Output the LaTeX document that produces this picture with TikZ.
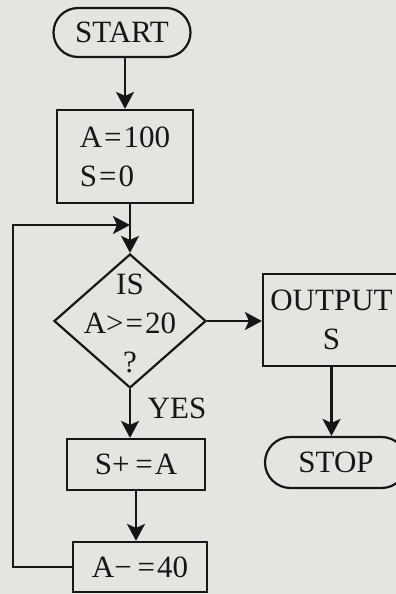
\documentclass[tikz,border=0pt]{standalone}
\usepackage{fontspec}
\setmainfont{Liberation Serif}
\usetikzlibrary{arrows.meta,shapes.geometric,shapes.misc,calc}
\definecolor{paper}{RGB}{228,228,224}
\definecolor{ink}{RGB}{22,22,22}
\newcommand{\eqk}{\kern2pt=\kern2pt}
\begin{document}
\begin{tikzpicture}[x=1pt,y=-1pt,
  every node/.style={font=\fontsize{31}{39}\selectfont, text=ink},
  proc/.style={draw=ink, line width=2.2pt, inner sep=0pt, align=center},
  term/.style={draw=ink, line width=2.2pt, rounded rectangle, inner sep=0pt},
  decision/.style={draw=ink, line width=2.2pt, diamond, inner sep=0pt},
  arr/.style={draw=ink, line width=2.2pt, line join=miter, -{Stealth[length=17pt,width=18pt,inset=4pt]}}]
\useasboundingbox (0,0) rectangle (396,594);
\fill[paper] (0,0) rectangle (396,594);
\clip (0,0) rectangle (396,594);
% nodes
\node[term, minimum width=137pt, minimum height=49pt] (start) at (122,32.5) {START};
\node[proc, minimum width=136pt, minimum height=93pt, align=left] (init) at (125,156.5) {A\eqk100\\S\eqk0};
\node[decision, minimum width=152pt, minimum height=134pt] (dec) at (130,321) {};
\node[align=center] (dectext) at (130,323) {IS\\A>\eqk20\\?};
\node[proc, minimum width=137pt, minimum height=92pt] (out) at (331.5,320) {OUTPUT\\S};
\node[term, minimum width=142pt, minimum height=51pt] (stop) at (336,462.5) {STOP};
\node[proc, minimum width=138pt, minimum height=51pt] (sum) at (136,464.5) {S+ \kern-2pt=\kern2pt A};
\node[proc, minimum width=134pt, minimum height=50pt] (dec2) at (140,567) {A− \kern-2pt=\kern2pt 40};
\node (yes) at (177,408) {YES};
% helper coordinates
\coordinate (join) at (dec.north |- 0,225);
\coordinate (lc) at (13,225);
% connectors
\draw[arr] (start.south -| init.north) -- (init.north);
\draw[arr] (init.south -| dec.north) -- (dec.north);
\draw[arr] (dec.east) -- (dec.east -| out.west);
\draw[arr] (out.south) -- (out.south |- stop.north);
\draw[arr] (dec.south) -- (dec.south |- sum.north);
\draw[arr] (sum.south) -- (sum.south |- dec2.north);
\draw[arr] (dec2.west) -| (lc) -- (join);
\end{tikzpicture}
\end{document}
